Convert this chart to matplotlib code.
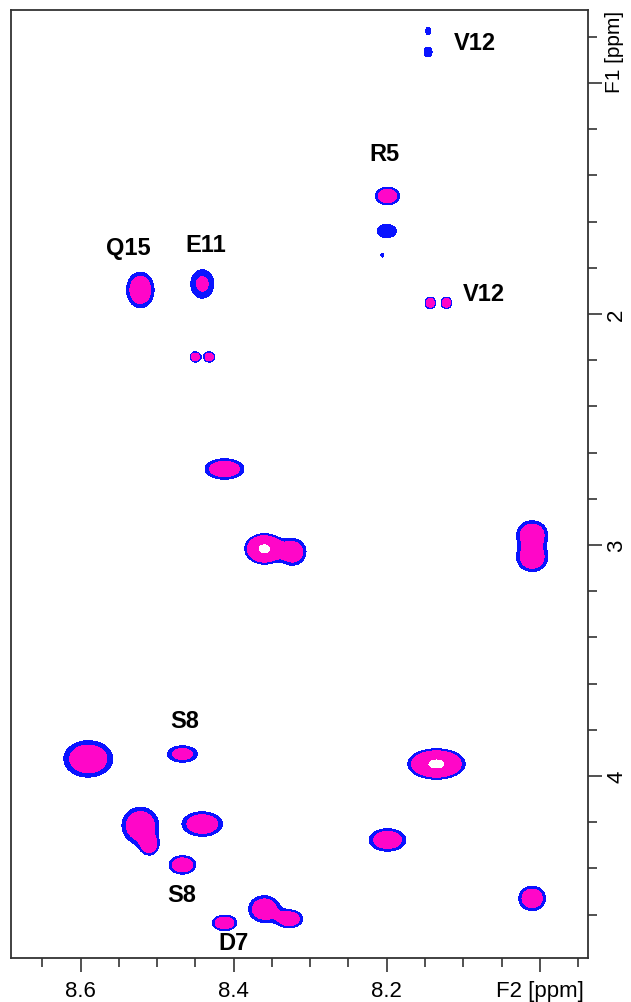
import numpy as np
import matplotlib
matplotlib.use("Agg")
import matplotlib.pyplot as plt
from matplotlib.ticker import MultipleLocator, FixedLocator

plt.rcParams["font.family"] = ["Liberation Sans", "DejaVu Sans"]

# cross peaks: F2 shift, F1 shift, outline width / height (in ppm), intensity
peak_f2 = [8.146, 8.146, 8.199, 8.200, 8.206, 8.143, 8.122,
           8.522, 8.441, 8.450, 8.432, 8.412, 8.360, 8.323,
           8.010, 8.010, 8.590, 8.467, 8.522, 8.510, 8.441, 8.135,
           8.199, 8.467, 8.412, 8.360, 8.327, 8.010]
peak_f1 = [0.775, 0.866, 1.489, 1.641, 1.745, 1.952, 1.952,
           1.896, 1.870, 2.186, 2.186, 2.671, 3.017, 3.030,
           2.955, 3.055, 3.926, 3.905, 4.215, 4.300, 4.208, 3.948,
           4.277, 4.385, 4.636, 4.576, 4.619, 4.530]
peak_wx = [0.0065, 0.0105, 0.032, 0.025, 0.003, 0.014, 0.014,
           0.036, 0.030, 0.014, 0.014, 0.051, 0.051, 0.035,
           0.040, 0.040, 0.064, 0.039, 0.048, 0.022, 0.053, 0.075,
           0.048, 0.035, 0.032, 0.041, 0.034, 0.035]
peak_wy = [0.030, 0.043, 0.076, 0.058, 0.017, 0.050, 0.050,
           0.154, 0.123, 0.045, 0.045, 0.089, 0.132, 0.115,
           0.120, 0.120, 0.158, 0.071, 0.160, 0.080, 0.106, 0.132,
           0.097, 0.080, 0.067, 0.115, 0.076, 0.106]
peak_amp = [0.4, 0.4, 1.0, 0.45, 0.33, 1.0, 1.0,
            1.0, 0.6, 1.0, 1.0, 1.0, 2.3, 1.0,
            1.0, 1.0, 1.0, 0.75, 1.0, 0.8, 1.0, 2.3,
            1.0, 1.0, 1.0, 1.0, 1.0, 1.0]

# assignments
label_text = ["V12", "R5", "Q15", "E11", "V12", "S8", "S8", "D7"]
label_f2 = [8.085, 8.203, 8.538, 8.437, 8.073, 8.464, 8.468, 8.400]
label_f1 = [0.823, 1.307, 1.714, 1.701, 1.913, 3.762, 4.515, 4.719]

levels = [0.3, 0.5, 2.0, 100]
colors = ["#0a14ff", "#ff06c8", "white"]

f2_lim = (8.691, 7.937)
f1_lim = (4.788, 0.684)

x = np.linspace(7.93, 8.70, 900)
y = np.linspace(0.67, 4.80, 1500)
X, Y = np.meshgrid(x, y)
Z = np.zeros_like(X)
for x0, y0, wx, wy, a in zip(peak_f2, peak_f1, peak_wx, peak_wy, peak_amp):
    # sigma chosen so the lowest contour sits at the given half-width
    k = np.sqrt(2 * np.log(a / levels[0]))
    sx = wx / 2 / k
    sy = wy / 2 / k
    Z += a * np.exp(-0.5 * (((X - x0) / sx) ** 2 + ((Y - y0) / sy) ** 2))

fig = plt.figure(figsize=(6.31, 10.03), dpi=100)
ax = fig.add_axes([11 / 631, 44 / 1003, 577 / 631, 948 / 1003])
ax.contourf(X, Y, Z, levels=levels, colors=colors)

for t, lx, ly in zip(label_text, label_f2, label_f1):
    ax.text(lx, ly, t, fontsize=17, fontweight="bold", ha="center",
            va="center")

ax.set_xlim(*f2_lim)
ax.set_ylim(*f1_lim)

ax.xaxis.set_major_locator(FixedLocator([8.6, 8.4, 8.2, 8.0]))
ax.set_xticklabels(["8.6", "8.4", "8.2", "F2 [ppm]"])
ax.xaxis.set_minor_locator(MultipleLocator(0.05))

ax.yaxis.tick_right()
ax.yaxis.set_major_locator(FixedLocator([1, 2, 3, 4]))
ax.set_yticklabels(["", "2", "3", "4"])
ax.yaxis.set_minor_locator(MultipleLocator(0.2))

ax.tick_params(which="major", length=10, width=1.2, labelsize=16,
               color="#333333", pad=6)
ax.tick_params(which="minor", length=6.5, width=1.2, color="#333333")
ax.tick_params(axis="y", which="both", left=False, right=True, pad=3)
for lab in ax.get_yticklabels():
    lab.set_rotation(90)
    lab.set_va("center")

# axis name sits just past the 1 ppm tick, reading upwards
ax.text(1.029, 1.04, "F1 [ppm]", transform=ax.get_yaxis_transform(),
        rotation=90, ha="left", va="bottom", fontsize=15, clip_on=False)

for sp in ax.spines.values():
    sp.set_linewidth(1.3)
    sp.set_color("#333333")

fig.savefig("out.png", dpi=100)
